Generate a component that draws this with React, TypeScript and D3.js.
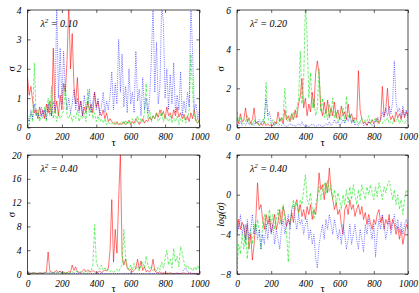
import * as d3 from "d3";
import { useEffect, useRef } from "react";

const W = 419;
const H = 293;

// tau sampled every 10 from 0 to 1000
const tau = d3.range(0, 1001, 10);
const xTicks = [0, 200, 400, 600, 800, 1000];

const lambda = ["0.10", "0.20", "0.40", "0.40"];
const yLabels = ["σ", "σ", "σ", "log(σ)"];
const yDomains = [[0, 4], [0, 6], [0, 20], [-8, 4]];
const yTicks = [[0, 1, 2, 3, 4], [0, 2, 4, 6], [0, 4, 8, 12, 16, 20], [-8, -4, 0, 4]];

const red1 = [1.7,1.1,1.4,0.9,0.5,0.6,0.3,0.7,0.4,0.6,0.3,0.8,0.5,0.9,0.4,2.7,0.5,0.9,0.4,1.1,0.6,1.5,1.2,2.3,4.2,2.0,3.2,1.4,0.8,1.7,0.6,0.9,0.4,0.7,0.5,0.9,0.6,0.8,0.5,1.2,0.7,0.9,0.5,0.4,0.6,0.3,0.5,0.2,0.3,0.2,0.15,0.1,0.2,0.1,0.15,0.1,0.2,0.1,0.15,0.25,0.1,0.2,0.15,0.3,0.2,0.1,0.2,0.3,0.15,0.25,0.2,0.35,0.25,0.4,0.3,0.5,0.35,0.6,0.4,0.55,0.3,0.7,0.4,0.5,0.3,0.6,0.4,0.7,0.35,0.5,0.3,0.45,0.25,0.4,0.2,0.5,0.3,0.6,0.2,0.15,0.3];
const green1 = [0.3,0.1,0.5,0.2,2.2,0.4,0.6,0.2,0.4,0.3,0.7,0.2,1.0,0.4,1.4,0.3,0.6,0.2,0.5,0.3,0.4,0.6,1.5,0.4,0.3,0.5,0.2,0.4,0.3,0.6,0.2,0.4,0.3,0.5,0.2,1.3,0.4,0.7,0.3,0.5,0.2,0.4,0.2,0.3,0.15,0.3,0.1,0.2,0.1,0.15,0.1,0.2,0.1,0.15,0.1,0.2,0.1,0.25,0.1,0.2,0.15,0.3,0.1,0.2,0.4,0.15,0.3,0.2,0.5,1.5,0.3,0.6,0.2,0.4,0.3,0.5,0.2,0.3,0.6,0.2,0.4,0.3,0.2,0.4,0.15,0.3,0.2,0.4,0.1,0.3,0.2,0.4,0.15,0.3,0.6,2.5,1.2,0.4,0.2,0.3,0.1];
const blue1 = [0.4,0.2,0.6,0.3,0.8,0.4,0.5,0.3,0.7,0.4,0.6,0.3,0.8,0.5,0.4,0.9,0.6,4.2,1.0,2.7,0.8,2.6,1.2,0.6,1.0,0.5,0.8,1.3,0.6,1.0,0.5,0.9,0.4,1.1,0.6,0.8,1.3,0.5,0.9,1.2,0.6,1.0,0.4,0.7,1.2,0.5,0.9,0.6,1.1,1.9,0.6,1.5,0.8,3.0,1.2,2.5,0.7,1.4,0.5,2.0,0.8,1.2,0.5,2.6,0.9,1.3,0.4,1.7,0.6,1.0,0.5,1.0,2.3,4.2,1.2,2.9,0.8,1.4,4.2,3.6,1.0,2.0,0.6,1.8,0.8,2.2,0.5,1.1,0.6,1.9,0.4,0.9,0.5,1.2,0.7,4.2,2.5,0.6,0.8,0.3,0.6];

const red2 = [0.5,0.2,0.7,0.3,0.4,1.0,0.3,0.5,0.2,0.4,1.0,0.2,0.3,0.1,0.2,0.1,0.3,0.1,0.2,0.1,0.15,0.1,0.3,0.2,0.8,0.3,0.5,0.2,0.9,0.4,0.6,0.3,0.7,0.4,0.9,0.5,1.2,1.6,2.5,1.0,1.5,0.6,1.2,0.8,1.8,1.0,2.8,3.4,2.7,1.0,0.6,1.3,0.7,1.4,0.5,1.0,0.6,1.3,0.5,0.9,0.4,1.1,0.6,0.8,0.4,1.2,0.5,0.7,0.3,0.5,0.4,2.9,0.9,0.4,0.2,0.3,0.1,0.3,0.2,0.4,0.2,0.3,0.5,0.2,0.4,2.1,0.6,0.9,2.0,0.7,0.4,0.6,0.3,0.8,0.5,0.7,0.4,0.9,0.5,0.8,0.6];
const green2 = [0.8,0.3,0.5,0.2,0.4,0.3,0.6,0.2,0.3,0.1,0.4,0.2,0.3,0.1,0.2,0.4,0.2,2.3,0.5,0.3,0.2,0.4,0.1,0.3,0.2,0.5,0.3,0.6,2.0,0.4,0.3,0.6,0.4,0.8,0.5,1.0,1.4,3.9,1.2,2.5,6.2,4.7,1.5,2.8,1.0,1.5,0.6,1.0,3.0,0.8,1.5,0.5,0.9,0.4,1.2,0.6,1.5,0.5,0.8,0.3,0.6,0.4,1.0,0.3,1.6,0.5,0.7,0.3,0.5,0.2,0.4,0.2,0.3,0.5,0.2,0.4,0.3,0.6,0.2,0.4,0.3,0.5,0.2,0.4,0.3,0.2,0.4,0.3,0.5,0.2,0.3,0.2,0.4,0.3,0.5,0.2,0.4,0.3,0.2,0.4,0.3];
const blue2 = [0.2,0.1,0.3,0.1,0.2,0.1,0.3,0.2,0.1,0.2,0.1,0.3,0.2,0.4,0.2,0.3,0.5,1.5,0.6,0.8,0.3,0.2,0.1,0.2,0.1,0.15,0.1,0.2,0.1,0.05,0.1,0.2,0.1,0.15,0.05,0.1,0.2,0.1,0.3,0.1,0.05,0.1,0.05,0.1,0.2,0.1,0.05,0.1,0.15,0.1,0.05,0.1,0.2,0.1,0.3,0.1,0.2,0.4,0.2,0.3,0.1,0.2,0.4,0.2,0.5,0.3,0.6,0.2,0.4,0.1,0.2,0.1,0.3,0.2,0.1,0.2,0.1,0.3,0.2,0.1,0.2,0.4,0.3,0.5,0.4,0.8,0.5,1.0,0.6,1.1,0.7,1.3,3.4,1.3,0.8,1.0,0.5,1.1,0.6,0.9,0.4];

const red3 = [0.1,0.2,0.1,0.1,0.2,0.1,0.1,0.2,0.1,0.1,0.2,0.4,3.7,0.5,0.3,0.2,0.4,0.6,0.3,0.5,0.2,0.3,0.1,0.2,0.4,0.3,1.5,0.6,1.2,0.4,0.3,0.2,0.5,0.8,0.4,0.7,0.5,0.3,0.6,0.4,0.2,0.3,0.5,0.2,0.4,0.7,0.5,1.0,4.0,12.5,2.0,7.5,3.5,12.5,20.5,3.0,1.5,2.5,1.0,0.6,0.8,0.4,0.6,1.0,2.5,0.8,2.2,0.6,1.2,0.4,0.6,0.3,0.8,2.5,0.5,0.3,0.2,0.4,0.1,0.2,0.1,0.15,0.1,0.2,0.1,0.05,0.1,0.15,0.1,0.05,0.1,0.2,0.1,0.05,0.1,0.15,0.1,0.05,0.1,0.1,0.05];
const green3 = [0.1,0.05,0.1,0.2,0.1,0.05,0.1,0.1,0.2,0.1,0.1,0.3,0.1,0.2,0.5,0.2,0.3,0.1,0.2,0.1,0.2,0.1,0.3,0.2,0.1,0.2,0.4,0.2,0.5,0.3,0.2,0.4,0.2,0.3,0.5,0.3,0.4,0.6,1.5,8.3,2.0,1.2,0.8,1.5,0.6,1.0,0.5,0.8,0.4,0.6,0.3,0.5,0.8,0.4,1.0,1.5,7.5,3.0,1.2,0.8,1.5,0.6,1.8,0.8,1.2,0.5,1.5,2.0,1.0,3.0,1.5,0.8,1.2,0.6,1.0,0.5,1.2,0.7,2.0,1.0,2.5,4.0,1.5,2.5,1.0,4.3,2.0,3.0,1.2,4.6,3.5,2.0,1.0,1.5,0.8,1.0,0.5,1.2,0.6,1.4,0.8];
const blue3 = [0.1,0.2,0.1,0.3,0.1,0.2,0.1,0.1,0.2,0.1,0.3,0.1,0.2,0.1,0.1,0.2,0.1,0.3,0.2,0.4,0.1,0.05,0.1,0.05,0.1,0.05,0.1,0.05,0.1,0.05,0.1,0.05,0.1,0.05,0.1,0.05,0.1,0.05,0.1,0.05,0.1,0.05,0.1,0.05,0.1,0.05,0.1,0.05,0.1,0.05,0.1,0.05,0.1,0.05,0.1,0.05,0.1,0.05,0.1,0.05,0.1,0.05,0.1,0.05,0.1,0.05,0.1,0.05,0.1,0.05,0.1,0.05,0.1,0.05,0.1,0.05,0.1,0.05,0.1,0.05,0.1,0.05,0.1,0.05,0.1,0.05,0.1,0.05,0.1,0.05,0.3,0.8,1.0,0.4,0.2,0.1,0.05,0.1,0.05,0.1,0.05];

const red4 = [-4.0,-2.5,-3.5,-2.8,-3.2,-4.5,-3.0,-5.5,-4.0,-6.6,-5.0,-2.5,1.2,-1.5,-1.0,-2.5,-3.5,-2.0,-3.0,-2.2,-3.8,-3.0,-2.0,-3.5,-2.8,-1.5,-3.0,-1.2,-2.0,-3.2,-2.5,-3.0,-1.8,-2.8,-1.0,-0.5,-1.8,-1.0,-2.2,-1.5,-2.5,-1.2,-2.0,-1.0,-2.5,-1.5,-2.0,-0.5,2.2,0.5,1.0,-0.5,1.2,0.2,2.7,0.5,-0.5,-1.5,-0.8,-2.0,-1.5,-3.0,-4.0,-1.5,-1.0,-2.0,-0.5,-1.5,-1.0,-2.2,-1.5,-1.0,-2.0,-1.2,-2.5,-1.8,-3.0,-2.0,-2.8,-3.5,-2.5,-3.0,-2.0,-1.5,-2.8,-2.2,-3.5,-2.5,-3.0,-2.0,-3.5,-2.5,-3.0,-4.0,-3.2,-4.5,-3.5,-5.0,-4.0,-3.0,-3.5];
const green4 = [-7.5,-5.0,-6.0,-4.0,-5.5,-3.0,-6.5,-4.5,-3.5,-5.0,-3.0,-4.0,-2.5,-3.5,-5.5,-3.0,-2.0,-3.5,-2.5,-1.5,-3.0,-2.0,-3.5,-2.5,-1.5,-3.0,-2.0,-1.0,-2.5,-4.0,-6.8,-3.0,-1.5,-0.5,-1.5,-0.8,-2.0,-0.5,-1.0,0.5,2.0,-0.5,-1.0,0.2,-1.5,-2.5,-1.0,-0.2,0.8,-0.5,0.5,1.2,0.0,1.5,0.3,1.0,-0.5,0.5,-1.0,0.2,-0.5,-1.5,0.0,-1.0,0.5,-0.8,0.8,-0.5,1.0,0.0,-1.0,0.5,-0.5,1.0,0.2,-0.5,0.8,0.0,1.0,0.3,-0.5,0.8,-0.2,1.2,0.5,-0.5,0.8,0.2,1.0,1.4,0.5,-0.5,0.5,-1.0,0.0,-1.5,-0.5,-2.0,-0.5,0.5,0.2];
const blue4 = [-2.5,-3.5,-2.0,-4.0,-3.0,-5.0,-2.5,-4.5,-3.5,-2.0,-4.0,-3.0,-4.5,-3.5,-5.5,-4.0,-5.0,-3.0,-4.5,-2.5,-4.0,-3.0,-5.0,-3.5,-4.5,-5.5,-3.5,-2.5,-4.0,-3.0,-2.0,-3.5,-1.5,-1.0,-2.5,-3.5,-2.0,-3.0,-2.5,-4.0,-3.0,-2.5,-4.5,-3.5,-5.0,-4.0,-6.4,-7.4,-5.0,-4.0,-3.0,-4.5,-2.5,-3.5,-2.0,-3.0,-4.0,-2.5,-3.5,-4.5,-3.5,-5.0,-3.0,-4.0,-5.5,-4.5,-3.0,-5.0,-4.0,-3.0,-4.5,-5.5,-3.5,-4.5,-5.8,-3.0,-4.0,-2.5,-3.5,-4.5,-3.0,-6.3,-4.0,-2.5,-3.5,-2.0,-3.0,-4.5,-3.5,-2.5,-4.0,-3.0,-2.0,-3.5,-2.5,-3.8,-2.8,-4.0,-3.0,-2.5,-3.2];

const reds = [red1, red2, red3, red4];
const greens = [green1, green2, green3, green4];
const blues = [blue1, blue2, blue3, blue4];

const colsX = [[27.5, 199.5], [237, 408]];
const rowsY = [[10, 127.5], [155, 274]];
const font = "Liberation Serif";

export default function App() {
  const ref = useRef<SVGSVGElement>(null);

  useEffect(() => {
    const svg = d3.select(ref.current);
    svg.selectAll("*").remove();

    for (let p = 0; p < 4; p++) {
      const [x0, x1] = colsX[p % 2];
      const [y0, y1] = rowsY[Math.floor(p / 2)];
      const x = d3.scaleLinear().domain([0, 1000]).range([x0, x1]);
      const y = d3.scaleLinear().domain(yDomains[p]).range([y1, y0]);

      const g = svg.append("g");
      const clipId = "clip" + p;
      g.append("clipPath").attr("id", clipId)
        .append("rect").attr("x", x0).attr("y", y0).attr("width", x1 - x0).attr("height", y1 - y0);

      const line = d3.line<number>().x((_, i) => x(tau[i])).y((d) => y(d));
      const series = [
        { data: reds[p], color: "#ff0000", dash: null },
        { data: greens[p], color: "#00e600", dash: "3,1.5" },
        { data: blues[p], color: "#0000ff", dash: "1,1.2" },
      ];
      const lines = g.append("g").attr("clip-path", `url(#${clipId})`);
      series.forEach((s) => {
        lines.append("path")
          .attr("d", line(s.data))
          .attr("fill", "none")
          .attr("stroke", s.color)
          .attr("stroke-width", 0.65)
          .attr("stroke-opacity", 0.85)
          .attr("stroke-dasharray", s.dash);
      });

      const styleAxis = (a: d3.Selection<SVGGElement, unknown, null, undefined>) => {
        a.attr("font-family", font);
        a.select(".domain").remove();
        a.selectAll("line").attr("stroke", "#000").attr("stroke-width", 0.6);
        a.selectAll("text").attr("font-family", font).attr("font-style", "italic").attr("font-size", 9.5).attr("fill", "#000");
      };

      g.append("g").attr("transform", `translate(0,${y1})`)
        .call(d3.axisBottom(x).tickValues(xTicks).tickSize(-3).tickPadding(6).tickFormat(d3.format("d")))
        .call(styleAxis);
      g.append("g").attr("transform", `translate(0,${y0})`)
        .call(d3.axisTop(x).tickValues(xTicks).tickSize(-3).tickFormat(() => ""))
        .call(styleAxis);
      g.append("g").attr("transform", `translate(${x0},0)`)
        .call(d3.axisLeft(y).tickValues(yTicks[p]).tickSize(-3).tickPadding(6).tickFormat(d3.format("d")))
        .call(styleAxis);
      g.append("g").attr("transform", `translate(${x1},0)`)
        .call(d3.axisRight(y).tickValues(yTicks[p]).tickSize(-3).tickFormat(() => ""))
        .call(styleAxis);

      g.append("rect").attr("x", x0).attr("y", y0).attr("width", x1 - x0).attr("height", y1 - y0)
        .attr("fill", "none").attr("stroke", "#000").attr("stroke-width", 0.7);

      // lambda label
      const lab = g.append("text").attr("x", x0 + 13).attr("y", y0 + 17)
        .attr("font-family", font).attr("font-size", 10).attr("font-style", "italic");
      lab.append("tspan").text("λ");
      lab.append("tspan").attr("dy", -4).attr("font-size", 7).text("2");
      lab.append("tspan").attr("dy", 4).text(` = ${lambda[p]}`);

      // axis titles
      g.append("text").attr("x", (x0 + x1) / 2).attr("y", y1 + 18)
        .attr("text-anchor", "middle").attr("font-family", font).attr("font-size", 10.5).text("τ");
      g.append("text")
        .attr("transform", `translate(${x0 - 13},${(y0 + y1) / 2}) rotate(-90)`)
        .attr("text-anchor", "middle").attr("font-family", font).attr("font-size", 10)
        .attr("font-style", p === 3 ? "italic" : "normal").text(yLabels[p]);
    }
  }, []);

  return (
    <div style={{ position: "absolute", left: 0, top: 0 }}>
      <svg ref={ref} width={W} height={H} style={{ display: "block", background: "#fff" }}></svg>
    </div>
  );
}
